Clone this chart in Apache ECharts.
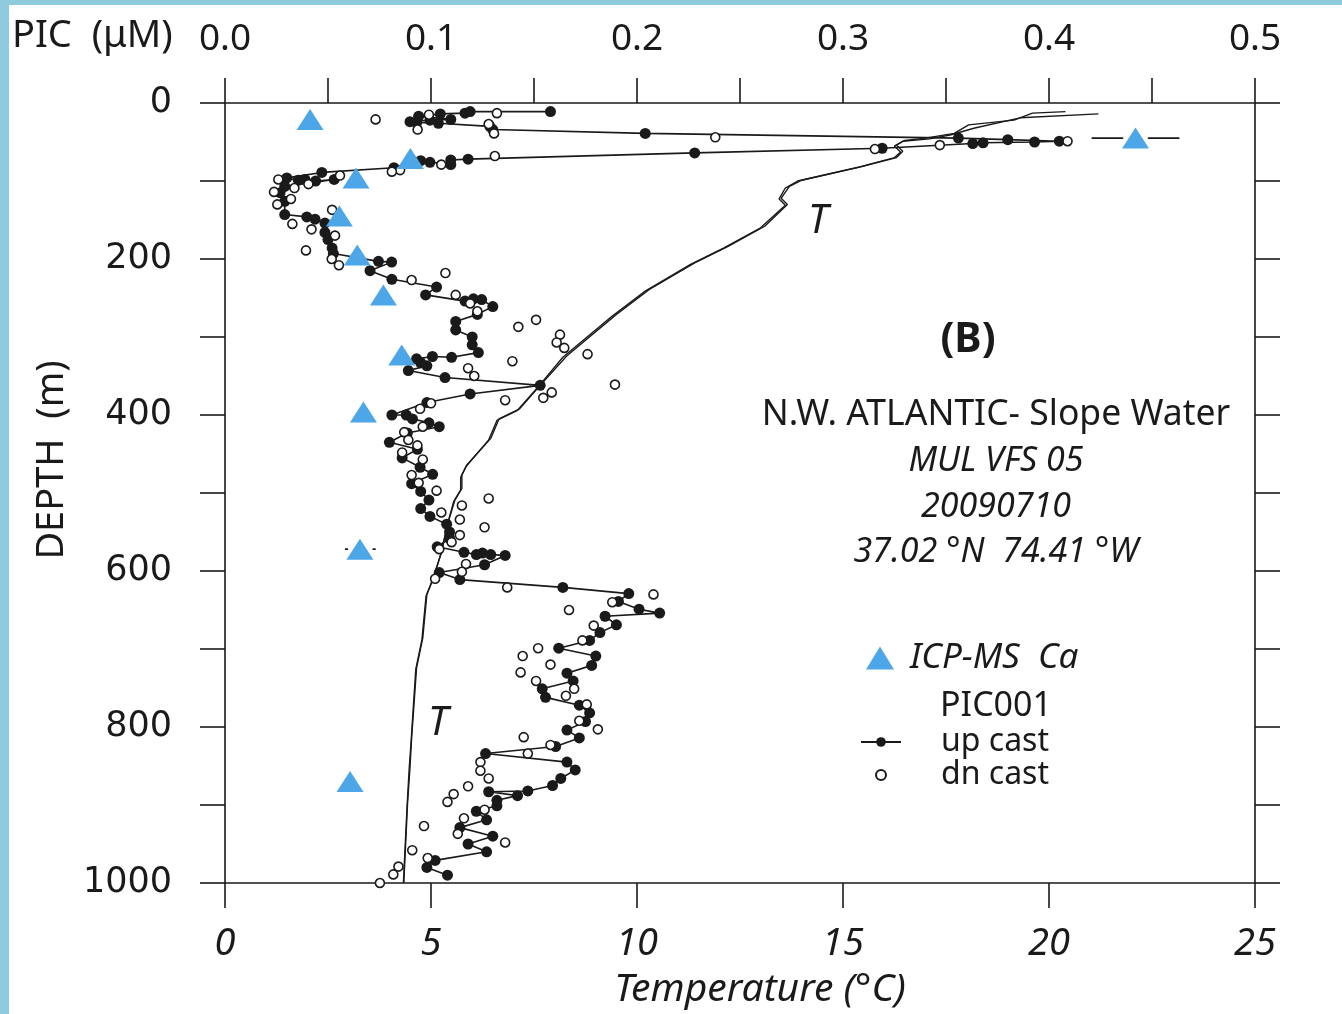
<!DOCTYPE html>
<html>
<head>
<meta charset="utf-8">
<script src="https://cdn.jsdelivr.net/npm/echarts@6/dist/echarts.min.js"></script>
<style>
  html, body { margin: 0; padding: 0; background: #ffffff; }
  #chart { width: 1342px; height: 1014px; }
</style>
</head>
<body>
<div id="chart"></div>
<script>
// ---------------- DATA ----------------
// Temperature profiles (two CTD casts): [temperature °C, depth m]
const tempCastA = [[21.2,14],[19.3,19],[18.2,32],[17.6,41],[17.1,46],[16.45,49],[16.3,54],[16.45,62],[16.3,70],[15.5,81],[14.0,99],[13.7,107],[13.5,122],[13.65,130],[13.1,158],[12.2,184],[11.4,205],[10.3,239],[9.5,271],[8.3,324],[7.65,362],[7.15,392],[6.65,405],[6.45,430],[5.87,464],[5.75,477],[5.75,494],[5.58,509],[5.42,537],[5.26,575],[5.06,609],[4.9,630],[4.8,686],[4.65,724],[4.53,814],[4.49,852],[4.43,899],[4.34,1000]];
const tempCastB = [[20.4,11],[19.6,13],[19.15,22],[18.05,28],[17.7,39],[17.0,45],[16.5,48],[16.25,55],[16.4,63],[16.25,70],[15.4,82],[13.9,100],[13.6,109],[13.45,123],[13.6,131],[13.0,160],[12.1,186],[11.3,207],[10.2,241],[9.4,273],[8.2,326],[7.6,364],[7.1,394],[6.6,407],[6.4,432],[5.85,466],[5.72,480],[5.72,496],[5.55,511],[5.4,540],[5.24,578],[5.04,611],[4.88,632],[4.78,688],[4.63,726],[4.52,816],[4.47,854],[4.42,901],[4.33,1000]];

// PIC001 up cast: [PIC µM, depth m] in sampling order
const picUpCast = [[0.158,11],[0.119,11],[0.1165,13],[0.1045,14],[0.094,17],[0.1096,21],[0.0995,22],[0.0898,24],[0.093,25],[0.1036,26],[0.1286,30],[0.130,34],[0.204,39],[0.356,45],[0.380,47],[0.405,49],[0.393,50],[0.368,51],[0.363,52],[0.319,58],[0.228,64],[0.118,72],[0.1096,73],[0.1096,79],[0.095,74],[0.0995,76],[0.082,83],[0.047,89],[0.030,96],[0.0356,99],[0.0388,98],[0.044,100],[0.053,98],[0.029,107],[0.0267,115],[0.029,126],[0.029,143],[0.0397,146],[0.0437,149],[0.0485,154],[0.0485,166],[0.050,175],[0.052,186],[0.0526,193],[0.0745,203],[0.0809,204],[0.0704,215],[0.081,226],[0.1027,236],[0.0974,246],[0.1165,254],[0.1206,251],[0.1246,252],[0.130,261],[0.1225,271],[0.112,280],[0.112,291],[0.120,300],[0.120,310],[0.123,320],[0.110,326],[0.1007,325],[0.093,328],[0.095,333],[0.098,337],[0.089,343],[0.1068,352],[0.153,362],[0.119,373],[0.098,384],[0.081,400],[0.088,400],[0.091,405],[0.099,410],[0.104,415],[0.0885,423],[0.0798,435],[0.0934,444],[0.086,455],[0.0947,467],[0.1008,476],[0.0906,488],[0.095,498],[0.099,509],[0.095,520],[0.0995,530],[0.1076,540],[0.109,550],[0.109,558],[0.103,569],[0.116,576],[0.122,579],[0.125,577],[0.129,579],[0.136,580],[0.126,592],[0.104,602],[0.114,611],[0.164,621],[0.196,629],[0.191,639],[0.201,649],[0.211,654],[0.1845,658],[0.190,669],[0.182,679],[0.177,689],[0.162,699],[0.180,709],[0.178,721],[0.166,731],[0.169,741],[0.154,751],[0.1556,762],[0.172,772],[0.177,782],[0.175,793],[0.166,804],[0.172,814],[0.1605,825],[0.1265,834],[0.166,845],[0.170,855],[0.163,866],[0.159,875],[0.147,882],[0.128,883],[0.142,888],[0.132,894],[0.132,901],[0.122,908],[0.127,919],[0.114,929],[0.130,940],[0.118,950],[0.127,960],[0.102,971],[0.098,980],[0.108,990]];

// PIC001 down cast: [PIC µM, depth m]
const picDnCast = [[0.0731,21],[0.099,15],[0.132,13],[0.0935,34],[0.128,27],[0.1306,39],[0.238,44],[0.3155,59],[0.347,54],[0.409,49],[0.131,68],[0.105,79],[0.085,86],[0.081,88],[0.0558,93],[0.0405,104],[0.0337,109],[0.0259,98],[0.0238,114],[0.032,123],[0.0254,130],[0.052,137],[0.0327,155],[0.042,162],[0.0534,170],[0.0393,189],[0.0518,200],[0.0553,208],[0.107,218],[0.0906,227],[0.112,246],[0.119,257],[0.1225,267],[0.151,278],[0.1424,287],[0.1626,297],[0.161,307],[0.1647,314],[0.176,322],[0.1395,331],[0.118,340],[0.121,350],[0.1893,361],[0.1586,371],[0.1545,378],[0.136,381],[0.100,385],[0.0947,392],[0.096,415],[0.087,422],[0.089,432],[0.0934,439],[0.086,448],[0.096,457],[0.0906,477],[0.094,487],[0.1027,497],[0.128,507],[0.115,516],[0.105,525],[0.114,534],[0.126,544],[0.114,554],[0.110,563],[0.104,572],[0.117,591],[0.115,601],[0.102,610],[0.137,621],[0.208,630],[0.188,640],[0.167,650],[0.179,670],[0.1735,689],[0.152,699],[0.1445,709],[0.158,720],[0.1435,730],[0.151,741],[0.1695,751],[0.1655,760],[0.1756,771],[0.172,792],[0.181,803],[0.145,813],[0.158,823],[0.147,834],[0.124,845],[0.124,856],[0.128,866],[0.118,876],[0.111,886],[0.108,896],[0.126,906],[0.116,917],[0.0966,927],[0.113,937],[0.136,948],[0.0909,958],[0.0984,968],[0.0842,979],[0.0817,989],[0.0752,1000]];

// ICP-MS Ca derived PIC: [PIC µM, depth m]
const icpCa = [[0.0413,21],[0.442,45],[0.090,71],[0.0636,96],[0.0555,145],[0.0642,195],[0.0769,246],[0.0858,323],[0.0672,396],[0.0655,572],[0.0607,870]];
// ICP-MS error bars: [low, high, depth]
const icpErr = [[0.421,0.463,45],[0.0586,0.0728,572]];

// Axis tick labels
const tempTicks = [0, 5, 10, 15, 20, 25];
const picTicks = ['0.0','0.1','0.2','0.3','0.4','0.5'];
const depthTicks = [0, 200, 400, 600, 800, 1000];

// ---------------- CHART ----------------
const INK = '#1a1a1a';
const SANS = "'Noto Sans', 'Open Sans', sans-serif";
const chart = echarts.init(document.getElementById('chart'), null, { renderer: 'canvas' });

const axisLine = { show: true, onZero: false, lineStyle: { color: INK, width: 1.6 } };
const tickOut = (len) => ({ show: true, inside: false, length: len, lineStyle: { color: INK, width: 1.6 } });

const option = {
  animation: false,
  backgroundColor: '#ffffff',
  grid: { left: 225, top: 103, width: 1030, height: 783, containLabel: false },
  xAxis: [
    {
      type: 'value', position: 'bottom', min: 0, max: 25, interval: 5,
      axisLine, axisTick: tickOut(25), splitLine: { show: false },
      axisLabel: {
        margin: 42, color: INK, fontFamily: SANS, fontStyle: 'italic', fontSize: 38,
        formatter: v => tempTicks.indexOf(v) >= 0 ? String(v) : ''
      },
      name: 'Temperature (°C)', nameLocation: 'middle', nameGap: 87,
      nameTextStyle: { color: INK, fontFamily: SANS, fontStyle: 'italic', fontSize: 39, padding: [0, 0, 0, 40] }
    },
    {
      type: 'value', position: 'top', min: 0, max: 0.5, interval: 0.05,
      axisLine, axisTick: tickOut(25), splitLine: { show: false },
      axisLabel: {
        margin: 45, color: INK, fontFamily: SANS, fontSize: 37,
        showMinLabel: true, showMaxLabel: true,
        formatter: v => {
          const k = Math.round(v * 10);
          return Math.abs(v * 10 - k) < 1e-6 ? picTicks[k] : '';
        }
      }
    }
  ],
  yAxis: [
    {
      type: 'value', position: 'left', inverse: true, min: 0, max: 1000, interval: 100,
      axisLine, axisTick: tickOut(25), splitLine: { show: false },
      axisLabel: {
        margin: 53, color: INK, fontFamily: "'DejaVu Sans', sans-serif", fontSize: 35,
        showMinLabel: true, showMaxLabel: true,
        formatter: v => depthTicks.indexOf(v) >= 0 ? String(v) : ''
      }
    },
    {
      type: 'value', position: 'right', inverse: true, min: 0, max: 1000, interval: 100,
      axisLine, axisTick: tickOut(25), splitLine: { show: false },
      axisLabel: { show: false }
    }
  ],
  legend: [
    {
      data: ['ICP-MS  Ca'], left: 861, top: 634, orient: 'vertical',
      itemWidth: 28, itemHeight: 23, selectedMode: false,
      textStyle: { color: INK, fontFamily: SANS, fontStyle: 'italic', fontSize: 35, lineHeight: 38, padding: [0, 0, 0, 11] }
    },
    {
      data: ['up cast'], left: 855, top: 719, orient: 'vertical',
      itemWidth: 40, itemHeight: 12, selectedMode: false,
      textStyle: { color: INK, fontFamily: SANS, fontSize: 32, lineHeight: 36, padding: [0, 0, 0, 35] }
    },
    {
      data: ['dn cast'], left: 870, top: 752, orient: 'vertical',
      itemWidth: 10, itemHeight: 10, selectedMode: false,
      textStyle: { color: INK, fontFamily: SANS, fontSize: 32, lineHeight: 36, padding: [0, 0, 0, 50] }
    }
  ],
  graphic: [
    { type: 'rect', left: 0, top: 0, shape: { width: 9, height: 1014 }, style: { fill: '#8fcbdd' }, silent: true },
    { type: 'rect', left: 0, top: 0, shape: { width: 1342, height: 5 }, style: { fill: '#8fcbdd' }, silent: true },
    { type: 'text', x: 12, y: 36, style: { text: 'PIC  (μM)', fill: INK, font: "38px 'Noto Sans', sans-serif", textAlign: 'left', textVerticalAlign: 'middle' } },
    { type: 'text', x: 52, y: 460, rotation: Math.PI / 2, style: { text: 'DEPTH  (m)', fill: INK, font: "38px 'Noto Sans', sans-serif", textAlign: 'center', textVerticalAlign: 'middle' } },
    { type: 'text', x: 968, y: 340, style: { text: '(B)', fill: INK, font: "bold 41px 'Noto Sans', sans-serif", textAlign: 'center', textVerticalAlign: 'middle' } },
    { type: 'text', x: 996, y: 415, style: { text: 'N.W. ATLANTIC- Slope Water', fill: INK, font: "35.5px 'Noto Sans', sans-serif", textAlign: 'center', textVerticalAlign: 'middle' } },
    { type: 'text', x: 996, y: 461, style: { text: 'MUL VFS 05', fill: INK, font: "italic 34px 'Noto Sans', sans-serif", textAlign: 'center', textVerticalAlign: 'middle' } },
    { type: 'text', x: 996, y: 507, style: { text: '20090710', fill: INK, font: "italic 34px 'Noto Sans', sans-serif", textAlign: 'center', textVerticalAlign: 'middle' } },
    { type: 'text', x: 996, y: 552, style: { text: '37.02 °N  74.41 °W', fill: INK, font: "italic 34px 'Noto Sans', sans-serif", textAlign: 'center', textVerticalAlign: 'middle' } },
    { type: 'text', x: 996, y: 706, style: { text: 'PIC001', fill: INK, font: "34px 'Noto Sans', sans-serif", textAlign: 'center', textVerticalAlign: 'middle' } },
    { type: 'text', x: 818, y: 222, style: { text: 'T', fill: INK, font: "italic 40px 'Noto Sans', sans-serif", textAlign: 'center', textVerticalAlign: 'middle' } },
    { type: 'text', x: 438, y: 724, style: { text: 'T', fill: INK, font: "italic 40px 'Noto Sans', sans-serif", textAlign: 'center', textVerticalAlign: 'middle' } }
  ],
  series: [
    {
      name: 'T cast A', type: 'line', xAxisIndex: 0, yAxisIndex: 0, data: tempCastA,
      symbol: 'none', smooth: false, silent: true, z: 2,
      lineStyle: { color: INK, width: 1.4 }
    },
    {
      name: 'T cast B', type: 'line', xAxisIndex: 0, yAxisIndex: 0, data: tempCastB,
      symbol: 'none', smooth: false, silent: true, z: 2,
      lineStyle: { color: INK, width: 1.4 }
    },
    {
      name: 'up cast', type: 'line', xAxisIndex: 1, yAxisIndex: 0, data: picUpCast,
      symbol: 'circle', symbolSize: 11, showAllSymbol: true, z: 3,
      itemStyle: { color: INK }, lineStyle: { color: INK, width: 1.6 }
    },
    {
      name: 'dn cast', type: 'scatter', xAxisIndex: 1, yAxisIndex: 0, data: picDnCast,
      symbol: 'circle', symbolSize: 9, z: 4,
      itemStyle: { color: '#ffffff', borderColor: INK, borderWidth: 1.6, opacity: 1 }
    },
    {
      name: 'ICP error', type: 'custom', xAxisIndex: 1, yAxisIndex: 0, data: icpErr, z: 5,
      encode: { x: [0, 1], y: 2 }, silent: true,
      renderItem: (params, api) => {
        const lo = api.coord([api.value(0), api.value(2)]);
        const hi = api.coord([api.value(1), api.value(2)]);
        const mid = (lo[0] + hi[0]) / 2;
        const gap = 13;
        const style = { stroke: INK, lineWidth: 1.8, lineCap: 'round' };
        return {
          type: 'group',
          children: [
            { type: 'line', shape: { x1: lo[0], y1: lo[1], x2: Math.max(lo[0] + 0.5, mid - gap), y2: lo[1] }, style },
            { type: 'line', shape: { x1: Math.min(hi[0] - 0.5, mid + gap), y1: hi[1], x2: hi[0], y2: hi[1] }, style }
          ]
        };
      }
    },
    {
      name: 'ICP-MS  Ca', type: 'scatter', xAxisIndex: 1, yAxisIndex: 0, data: icpCa,
      symbol: 'triangle', symbolSize: [27, 21], z: 6,
      itemStyle: { color: '#4da6e8', opacity: 1 }
    }
  ]
};
chart.setOption(option);
</script>
</body>
</html>
